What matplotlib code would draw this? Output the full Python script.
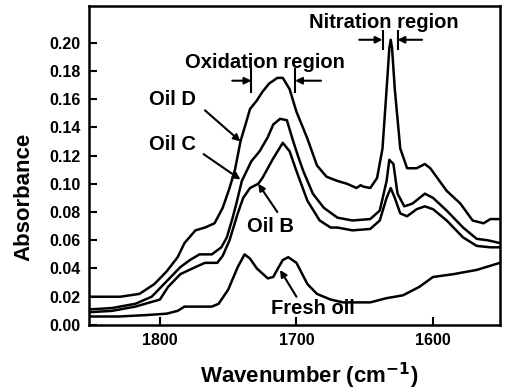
import numpy as np
import matplotlib
matplotlib.use("Agg")
import matplotlib.pyplot as plt

# ========== DATA ==========
wn_d = [1852, 1829, 1815, 1804, 1795, 1787, 1782, 1774, 1767, 1760, 1754, 1749, 1745,
        1741, 1737, 1734, 1729, 1725, 1720, 1714, 1710, 1705, 1700, 1692, 1685, 1678,
        1670, 1663, 1656, 1653, 1651, 1646, 1641, 1637, 1634, 1632, 1631, 1630, 1628,
        1624, 1619, 1612, 1606, 1602, 1590, 1580, 1571, 1563, 1558, 1551]
abs_d = [0.020, 0.020, 0.022, 0.029, 0.038, 0.048, 0.058, 0.067, 0.069, 0.072, 0.083, 0.097, 0.110,
         0.130, 0.143, 0.153, 0.159, 0.165, 0.171, 0.175, 0.175, 0.167, 0.151, 0.132, 0.113, 0.105,
         0.102, 0.100, 0.097, 0.099, 0.098, 0.097, 0.104, 0.125, 0.167, 0.196, 0.202, 0.196, 0.167,
         0.125, 0.111, 0.111, 0.114, 0.111, 0.095, 0.086, 0.074, 0.072, 0.075, 0.075]

wn_c = [1852, 1835, 1818, 1806, 1794, 1785, 1778, 1771, 1762, 1755, 1751, 1747, 1744, 1740,
        1736, 1733, 1727, 1721, 1717, 1712, 1707, 1703, 1699, 1695, 1688, 1680, 1670, 1659,
        1646, 1639, 1634, 1632, 1629, 1626, 1621, 1615, 1606, 1600, 1590, 1578, 1568, 1560, 1551]
abs_c = [0.011, 0.012, 0.015, 0.020, 0.032, 0.041, 0.046, 0.050, 0.050, 0.055, 0.062, 0.075, 0.086, 0.102,
         0.110, 0.116, 0.123, 0.133, 0.142, 0.146, 0.145, 0.132, 0.120, 0.109, 0.093, 0.083, 0.076, 0.074,
         0.075, 0.081, 0.102, 0.117, 0.114, 0.093, 0.084, 0.086, 0.093, 0.090, 0.081, 0.069, 0.061, 0.060, 0.058]

wn_b = [1852, 1835, 1818, 1800, 1794, 1785, 1774, 1767, 1758, 1754, 1749, 1743, 1739, 1734,
        1728, 1725, 1717, 1710, 1705, 1700, 1692, 1683, 1675, 1670, 1659, 1646, 1639, 1634,
        1631, 1628, 1624, 1619, 1612, 1606, 1600, 1590, 1578, 1568, 1558, 1551]
abs_b = [0.009, 0.010, 0.013, 0.018, 0.027, 0.036, 0.041, 0.044, 0.044, 0.049, 0.060, 0.079, 0.090, 0.097,
         0.100, 0.104, 0.118, 0.129, 0.123, 0.109, 0.088, 0.074, 0.069, 0.069, 0.067, 0.068, 0.074, 0.090,
         0.097, 0.090, 0.079, 0.077, 0.082, 0.084, 0.082, 0.074, 0.062, 0.056, 0.055, 0.055]

wn_f = [1852, 1830, 1810, 1795, 1787, 1782, 1774, 1762, 1757, 1750, 1743, 1738, 1734, 1729,
        1721, 1717, 1713, 1710, 1706, 1700, 1692, 1685, 1675, 1666, 1655, 1646, 1634, 1622,
        1610, 1600, 1585, 1568, 1551]
abs_f = [0.006, 0.006, 0.007, 0.008, 0.010, 0.013, 0.013, 0.013, 0.015, 0.025, 0.041, 0.050, 0.047, 0.040,
         0.033, 0.034, 0.041, 0.046, 0.048, 0.044, 0.029, 0.022, 0.018, 0.016, 0.016, 0.016, 0.019, 0.021,
         0.027, 0.034, 0.036, 0.039, 0.044]

x_ticks = [1800, 1700, 1600]
y_ticks = [0.00, 0.02, 0.04, 0.06, 0.08, 0.10, 0.12, 0.14, 0.16, 0.18, 0.20]

ox_region = (1733, 1701)   # bornes zone d'oxydation
nit_region = (1637, 1626)  # bornes zone de nitration

plt.rcParams['font.family'] = ['Liberation Sans', 'DejaVu Sans']
plt.rcParams['font.weight'] = 'bold'

fig = plt.figure(figsize=(5.05, 3.92), dpi=100)
ax = fig.add_axes([0.176, 0.171, 0.814, 0.814])

for wn, ab in [(wn_d, abs_d), (wn_c, abs_c), (wn_b, abs_b), (wn_f, abs_f)]:
    ax.plot(wn, ab, color='black', lw=1.8, solid_joinstyle='round')

ax.set_xlim(1852, 1551)
ax.set_ylim(0, 0.226)
ax.set_xticks(x_ticks)
ax.set_yticks(y_ticks)
ax.set_yticklabels([f"{v:.2f}" for v in y_ticks])
ax.tick_params(direction='in', length=6, width=1.5, labelsize=11.5, pad=6)
for sp in ax.spines.values():
    sp.set_linewidth(1.8)

ax.set_xlabel('Wavenumber (cm$^{\\mathbf{-1}}$)', fontsize=16, fontweight='bold')
ax.set_ylabel('Absorbance', fontsize=16, fontweight='bold')
ax.xaxis.set_label_coords(0.535, -0.112)
ax.yaxis.set_label_coords(-0.132, 0.40)

# ========== ANNOTATIONS ==========
fs = 14.5
arrow = dict(arrowstyle='-|>', color='black', lw=1.5, mutation_scale=10, shrinkA=0, shrinkB=0)

ax.text(1723, 0.186, 'Oxidation region', fontsize=fs, fontweight='bold', ha='center', va='center')
ax.vlines(ox_region, 0.164, 0.182, color='black', lw=1.5)
ax.annotate('', xy=(ox_region[0], 0.173), xytext=(ox_region[0] + 14, 0.173), arrowprops=arrow)
ax.annotate('', xy=(ox_region[1], 0.173), xytext=(ox_region[1] - 19, 0.173), arrowprops=arrow)

ax.text(1636, 0.214, 'Nitration region', fontsize=fs, fontweight='bold', ha='center', va='center')
ax.vlines(nit_region, 0.195, 0.209, color='black', lw=1.5)
ax.annotate('', xy=(nit_region[0], 0.202), xytext=(nit_region[0] + 17, 0.202), arrowprops=arrow)
ax.annotate('', xy=(nit_region[1], 0.202), xytext=(nit_region[1] - 18, 0.202), arrowprops=arrow)

ax.text(1791, 0.160, 'Oil D', fontsize=fs, fontweight='bold', ha='center', va='center')
ax.annotate('', xy=(1741, 0.130), xytext=(1767, 0.152), arrowprops=arrow)

ax.text(1791, 0.128, 'Oil C', fontsize=fs, fontweight='bold', ha='center', va='center')
ax.annotate('', xy=(1741, 0.103), xytext=(1768, 0.121), arrowprops=arrow)

ax.text(1719, 0.070, 'Oil B', fontsize=fs, fontweight='bold', ha='center', va='center')
ax.annotate('', xy=(1728, 0.100), xytext=(1714, 0.080), arrowprops=arrow)

ax.text(1688, 0.012, 'Fresh oil', fontsize=fs, fontweight='bold', ha='center', va='center')
ax.annotate('', xy=(1712, 0.039), xytext=(1700, 0.020), arrowprops=arrow)

fig.savefig('out.png', dpi=100)
